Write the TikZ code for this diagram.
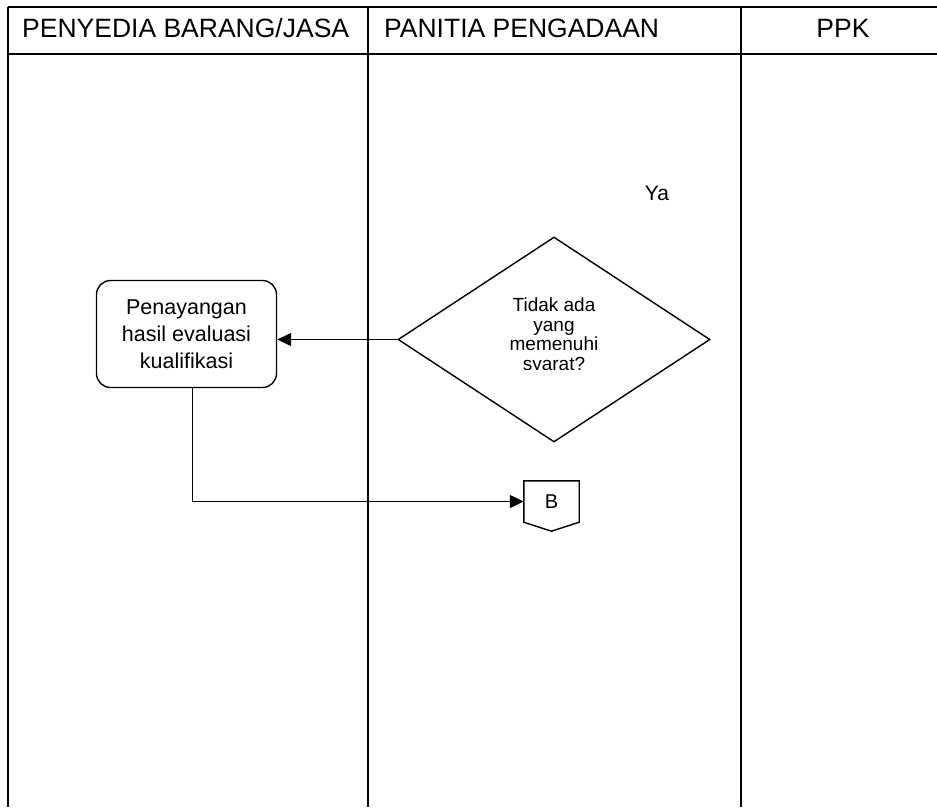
\documentclass[tikz,border=0pt]{standalone}
\usepackage{fontspec}
\setmainfont{Liberation Sans}
\usetikzlibrary{arrows.meta,shapes.geometric,calc}
\begin{document}
\begin{tikzpicture}[x=1pt,y=-1pt,
  grid/.style={line width=1.4pt},
  flow/.style={line width=1.4pt},
  tip/.style={-{Triangle[length=14pt,width=13pt]}},
  headtext/.style={font=\fontsize{26.5}{30}\selectfont, inner sep=0pt},
  procbox/.style={draw, line width=1.4pt, rounded corners=14pt, minimum width=180pt,
    minimum height=107pt, align=center, font=\fontsize{21.5}{27}\selectfont},
  decision/.style={draw, diamond, line width=1.4pt, minimum width=312pt,
    minimum height=205pt, inner sep=0pt},
  plain/.style={inner sep=0pt, font=\fontsize{20}{22.5}\selectfont},
  dectext/.style={inner sep=0pt, align=center, font=\fontsize{19}{19.5}\selectfont}]
\useasboundingbox (0,0) rectangle (937,807);

% swimlane table
\coordinate (tl) at (8,7);
\coordinate (tr) at (937,7);
\coordinate (hl) at (8,54);
\coordinate (hr) at (937,54);
\draw[grid] (tl) -- (tr);
\draw[grid] (hl) -- (hr);
\draw[grid] (8,7) -- (8,807);
\draw[grid] (368,7) -- (368,807);
\draw[grid] (741,7) -- (741,807);

% lane titles
\node[headtext, anchor=west] (h1) at (22,28) {PENYEDIA BARANG/JASA};
\node[headtext, anchor=west] (h2) at (384,28) {PANITIA PENGADAAN};
\node[headtext] (h3) at (843,28) {PPK};

% flow elements
\node[procbox] (tayang) at (186.5,334) {Penayangan\\hasil evaluasi\\kualifikasi};
\node[decision] (syarat) at (554,339.5) {};
% the decision label is cut off by its text frame
\begin{scope}
  \clip (430,280) rectangle (680,369);
  \node[dectext, anchor=north] (syarattext) at (554,298)
    {Tidak ada\\yang\\memenuhi\\syarat?};
\end{scope}
\node[plain, font=\fontsize{21}{24}\selectfont] (ya) at (657,193) {Ya};

\node[plain, minimum width=55pt, minimum height=41pt] (offB) at (551.5,501.5) {B};
\draw[flow] (offB.north west) -- (offB.north east) -- (offB.south east)
  -- ($(offB.south)+(0,9)$) -- (offB.south west) -- cycle;

% connectors
\draw[flow, tip] (syarat.west) -- (syarat.west -| tayang.east);
\draw[flow, tip] ([xshift=6pt]tayang.south) |- (offB.west);
\end{tikzpicture}
\end{document}
